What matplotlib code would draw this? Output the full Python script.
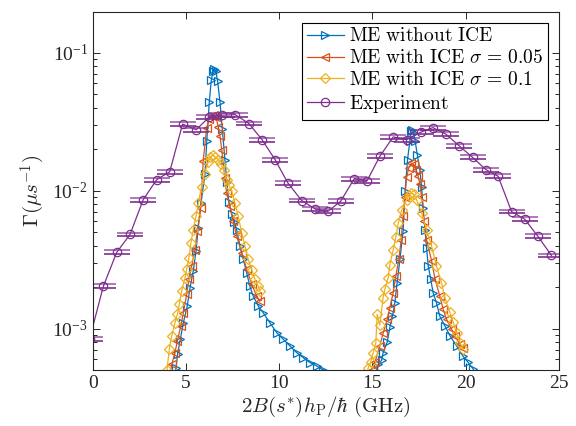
"""Decay rate vs. splitting: master-equation curves against experiment."""

import matplotlib.pyplot as plt
import numpy as np

# Experiment (purple circles, horizontal error bars)
EXP_X = [-0.17, 0.57, 1.29, 2.00, 2.71, 3.43, 4.13, 4.82, 5.55, 6.26, 6.93, 7.65,
         8.38, 9.08, 9.79, 10.46, 11.21, 11.92, 12.63, 13.30, 14.03, 14.72, 15.40, 16.12,
         16.84, 17.60, 18.25, 18.94, 19.66, 20.38, 21.09, 21.75, 22.47, 23.18, 23.88, 24.61]
EXP_Y = [8.4e-4, 2.03e-3, 3.58e-3, 4.81e-3, 8.61e-3, 1.20e-2, 1.37e-2, 3.03e-2, 2.76e-2,
         3.43e-2, 3.52e-2, 3.55e-2, 3.06e-2, 2.34e-2, 1.67e-2, 1.14e-2, 8.47e-3, 7.38e-3,
         7.09e-3, 8.37e-3, 1.22e-2, 1.18e-2, 1.77e-2, 2.45e-2, 2.34e-2, 2.65e-2, 2.86e-2,
         2.57e-2, 2.11e-2, 1.74e-2, 1.42e-2, 1.27e-2, 7.05e-3, 6.20e-3, 4.67e-3, 3.39e-3]
EXP_XERR = 0.70

# ME without ICE
NOICE_X1 = [4.40, 4.47, 4.55, 4.70, 4.86, 5.07, 5.22, 5.39, 5.54, 5.66, 5.81, 6.02, 6.12,
            6.25, 6.36, 6.45, 6.52, 6.60, 6.70, 6.83, 6.95, 7.09, 7.20, 7.30, 7.45, 7.60,
            7.72, 7.90, 8.08, 8.26, 8.43, 8.61, 8.88, 9.15, 9.51, 9.87, 10.22, 10.58, 10.94,
            11.29, 11.65, 12.01, 12.36, 12.50]
NOICE_Y1 = [4.5e-4, 5.2e-4, 6.5e-4, 8.4e-4, 1.10e-3, 1.46e-3, 1.98e-3, 2.61e-3, 3.64e-3,
            5.37e-3, 8.15e-3, 1.31e-2, 2.3e-2, 4.35e-2, 6.3e-2, 7.3e-2, 7.6e-2, 7.4e-2,
            6.2e-2, 4.35e-2, 2.8e-2, 1.68e-2, 1.15e-2, 8.3e-3, 6.8e-3, 5.9e-3, 5.2e-3,
            3.96e-3, 3.17e-3, 2.54e-3, 2.03e-3, 1.72e-3, 1.46e-3, 1.30e-3, 1.10e-3, 9.35e-4,
            8.37e-4, 7.49e-4, 6.70e-4, 6.17e-4, 5.68e-4, 5.37e-4, 5.02e-4, 4.8e-4]
NOICE_X2 = [15.25, 15.31, 15.50, 15.58, 15.80, 15.94, 16.08, 16.21, 16.33, 16.48, 16.65,
            16.76, 16.89, 17.01, 17.08, 17.15, 17.22, 17.30, 17.42, 17.55, 17.64, 17.73,
            17.82, 17.91, 18.00, 18.13, 18.26, 18.44, 18.62, 18.89, 19.16, 19.52, 19.87,
            20.14, 20.41, 20.55]
NOICE_Y2 = [4.5e-4, 5.5e-4, 5.9e-4, 6.7e-4, 8.0e-4, 1.02e-3, 1.23e-3, 1.54e-3, 2.15e-3,
            3.17e-3, 5.08e-3, 1.0e-2, 1.68e-2, 2.27e-2, 2.7e-2, 2.75e-2, 2.6e-2, 2.27e-2,
            1.8e-2, 1.42e-2, 1.07e-2, 7.5e-3, 5.2e-3, 3.85e-3, 2.84e-3, 2.3e-3, 1.82e-3,
            1.54e-3, 1.23e-3, 1.05e-3, 8.9e-4, 7.5e-4, 6.3e-4, 5.7e-4, 5.1e-4, 4.7e-4]

# ME with ICE, sigma = 0.05
ICE05_X1 = [4.15, 4.24, 4.41, 4.54, 4.72, 4.86, 5.04, 5.16, 5.31, 5.48, 5.61, 5.79, 5.93,
            6.11, 6.25, 6.38, 6.50, 6.62, 6.73, 6.83, 6.92, 7.09, 7.18, 7.36, 7.54, 7.72,
            7.99, 8.26, 8.53, 8.79, 8.97]
ICE05_Y1 = [4.6e-4, 5.5e-4, 6.7e-4, 8.1e-4, 1.04e-3, 1.3e-3, 1.77e-3, 2.28e-3, 2.84e-3,
            3.74e-3, 5.08e-3, 7.5e-3, 1.65e-2, 2.84e-2, 3.3e-2, 3.5e-2, 3.55e-2, 3.4e-2,
            2.9e-2, 2.47e-2, 1.98e-2, 1.23e-2, 9.6e-3, 7.7e-3, 6.0e-3, 4.7e-3, 3.55e-3,
            2.7e-3, 2.1e-3, 1.72e-3, 1.58e-3]
ICE05_X2 = [14.90, 14.96, 15.14, 15.40, 15.58, 15.80, 15.94, 16.12, 16.26, 16.42, 16.55,
            16.65, 16.75, 16.84, 16.95, 17.10, 17.22, 17.33, 17.45, 17.55, 17.64, 17.78,
            17.91, 18.18, 18.36, 18.62, 18.80, 18.98, 19.25, 19.43, 19.70, 19.87]
ICE05_Y2 = [4.6e-4, 5.0e-4, 5.7e-4, 7.5e-4, 9.3e-4, 1.17e-3, 1.42e-3, 1.82e-3, 2.4e-3,
            3.17e-3, 4.4e-3, 6.5e-3, 9.0e-3, 1.25e-2, 1.45e-2, 1.58e-2, 1.55e-2, 1.42e-2,
            1.28e-2, 1.12e-2, 9.0e-3, 6.0e-3, 4.4e-3, 3.1e-3, 2.3e-3, 1.72e-3, 1.38e-3,
            1.17e-3, 9.9e-4, 8.9e-4, 7.7e-4, 7.3e-4]

# ME with ICE, sigma = 0.1
ICE10_X1 = [3.98, 4.11, 4.24, 4.41, 4.54, 4.64, 4.77, 4.95, 5.04, 5.16, 5.27, 5.39, 5.54,
            5.66, 5.84, 6.00, 6.18, 6.31, 6.43, 6.55, 6.73, 6.88, 7.03, 7.18, 7.30, 7.45,
            7.63, 7.81, 7.99, 8.17, 8.34, 8.53, 8.70, 8.88, 8.97]
ICE10_Y1 = [5.0e-4, 7.1e-4, 8.9e-4, 1.1e-3, 1.27e-3, 1.5e-3, 1.87e-3, 2.33e-3, 2.7e-3,
            3.26e-3, 4.2e-3, 5.2e-3, 6.5e-3, 8.1e-3, 1.07e-2, 1.33e-2, 1.6e-2, 1.75e-2,
            1.8e-2, 1.76e-2, 1.68e-2, 1.55e-2, 1.42e-2, 1.2e-2, 1.1e-2, 1.0e-2, 8.1e-3,
            6.5e-3, 4.95e-3, 3.96e-3, 3.17e-3, 2.68e-3, 2.27e-3, 2.03e-3, 1.87e-3]
ICE10_X2 = [14.70, 14.78, 14.91, 15.05, 15.19, 15.26, 15.40, 15.58, 15.67, 15.85, 15.94,
            16.12, 16.26, 16.39, 16.57, 16.84, 16.97, 17.10, 17.22, 17.37, 17.64, 17.91,
            18.18, 18.44, 18.71, 18.89, 19.16, 19.34, 19.52, 19.70, 19.87]
ICE10_Y2 = [4.6e-4, 5.2e-4, 5.7e-4, 6.7e-4, 7.9e-4, 1.27e-3, 1.06e-3, 1.68e-3, 1.93e-3,
            2.34e-3, 2.9e-3, 3.74e-3, 4.6e-3, 5.8e-3, 7.2e-3, 8.6e-3, 9.3e-3, 9.6e-3,
            9.4e-3, 8.6e-3, 6.9e-3, 5.2e-3, 3.96e-3, 2.84e-3, 2.15e-3, 1.68e-3, 1.31e-3,
            1.11e-3, 9.3e-4, 7.9e-4, 7.1e-4]

BLUE = "#0072BD"
ORANGE = "#D95319"
YELLOW = "#EDB120"
PURPLE = "#7E2F8E"
AXIS_GRAY = "#262626"


def main():
    plt.rcParams["font.family"] = "serif"
    plt.rcParams["font.serif"] = ["Liberation Serif", "DejaVu Serif"]
    plt.rcParams["mathtext.fontset"] = "cm"

    fig = plt.figure(figsize=(5.76, 4.26), dpi=100)
    ax = fig.add_axes([0.161, 0.131, 0.809, 0.841])

    line_kw = dict(linewidth=0.9, markersize=5.5, markerfacecolor="none", markeredgewidth=0.9)
    dia_kw = {**line_kw, "markersize": 5}
    ax.plot(NOICE_X1, NOICE_Y1, marker=">", color=BLUE,
            label=r"$\mathrm{ME\ without\ ICE}$", **line_kw)
    ax.plot(NOICE_X2, NOICE_Y2, marker=">", color=BLUE, **line_kw)
    ax.plot(ICE05_X1, ICE05_Y1, marker="<", color=ORANGE,
            label=r"$\mathrm{ME\ with\ ICE}\ \sigma\,=\,0.05$", **line_kw)
    ax.plot(ICE05_X2, ICE05_Y2, marker="<", color=ORANGE, **line_kw)
    ax.plot(ICE10_X1, ICE10_Y1, marker="D", color=YELLOW,
            label=r"$\mathrm{ME\ with\ ICE}\ \sigma\,=\,0.1$", **dia_kw)
    ax.plot(ICE10_X2, ICE10_Y2, marker="D", color=YELLOW, **dia_kw)

    # Experiment: each horizontal error bar is drawn as a pair of thin lines
    ex = np.array(EXP_X)
    ey = np.array(EXP_Y)
    ax.hlines(ey * 10 ** 0.014, ex - EXP_XERR, ex + EXP_XERR, color=PURPLE,
              linewidth=1.2, alpha=0.75)
    ax.hlines(ey / 10 ** 0.014, ex - EXP_XERR, ex + EXP_XERR, color=PURPLE, linewidth=1.2)
    ax.plot(ex, ey, marker="o", color=PURPLE, label=r"$\mathrm{Experiment}$", linewidth=0.9,
            markersize=6, markerfacecolor="none", markeredgewidth=0.9)

    ax.set_yscale("log")
    ax.set_xlim(0, 25)
    ax.set_ylim(5e-4, 0.197)
    ax.set_xticks([0, 5, 10, 15, 20, 25])

    ax.tick_params(which="both", direction="in", top=True, right=True,
                   colors=AXIS_GRAY, labelsize=14, width=0.7)
    ax.tick_params(which="major", length=5)
    ax.tick_params(which="minor", length=3)
    for spine in ax.spines.values():
        spine.set_color(AXIS_GRAY)
        spine.set_linewidth(0.8)

    ax.set_xlabel(r"$2B(s^{*})h_{\mathrm{P}}/\hbar\ \mathrm{(GHz)}$", fontsize=15,
                  color=AXIS_GRAY, labelpad=2)
    ax.set_ylabel(r"$\Gamma(\mu s^{-1})$", fontsize=15, color=AXIS_GRAY, labelpad=4)

    leg = ax.legend(loc="upper right", fontsize=14, frameon=True, fancybox=False,
                    edgecolor="black", framealpha=1, borderaxespad=0.55,
                    handlelength=1.9, handletextpad=0.25, labelspacing=0.2,
                    borderpad=0.25)
    leg.get_frame().set_linewidth(0.8)

    fig.savefig("out.png", dpi=100)
    plt.close(fig)


if __name__ == "__main__":
    main()
